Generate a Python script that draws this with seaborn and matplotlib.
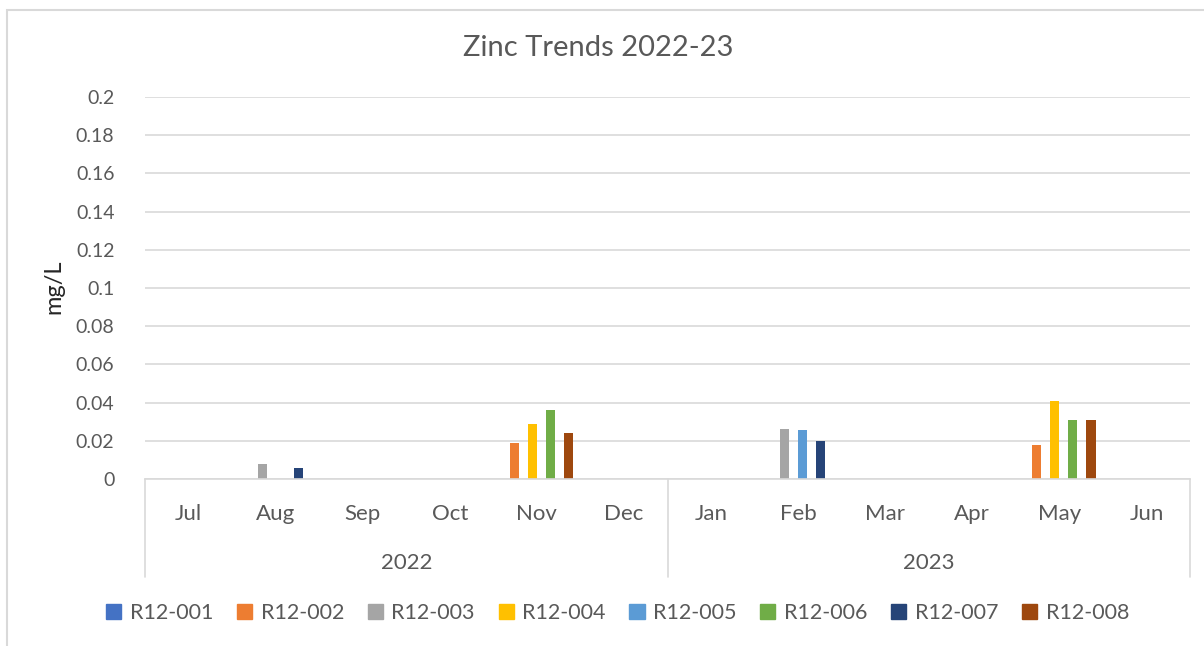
import numpy as np
import pandas as pd
import matplotlib
matplotlib.use('Agg')
import matplotlib.pyplot as plt
import matplotlib.patches as mpatches
from matplotlib.lines import Line2D
from matplotlib.transforms import blended_transform_factory
import seaborn as sns

# Data (mg/L), NaN = no reading
months = ['Jul', 'Aug', 'Sep', 'Oct', 'Nov', 'Dec', 'Jan', 'Feb', 'Mar', 'Apr', 'May', 'Jun']
years = ['2022', '2023']
sites = ['R12-001', 'R12-002', 'R12-003', 'R12-004', 'R12-005', 'R12-006', 'R12-007', 'R12-008']
nan = np.nan
r12_001 = [nan, nan, nan, nan, nan, nan, nan, nan, nan, nan, nan, nan]
r12_002 = [nan, nan, nan, nan, 0.019, nan, nan, nan, nan, nan, 0.018, nan]
r12_003 = [nan, 0.008, nan, nan, nan, nan, nan, 0.026, nan, nan, nan, nan]
r12_004 = [nan, nan, nan, nan, 0.029, nan, nan, nan, nan, nan, 0.041, nan]
r12_005 = [nan, nan, nan, nan, nan, nan, nan, 0.0255, nan, nan, nan, nan]
r12_006 = [nan, nan, nan, nan, 0.036, nan, nan, nan, nan, nan, 0.031, nan]
r12_007 = [nan, 0.006, nan, nan, nan, nan, nan, 0.020, nan, nan, nan, nan]
r12_008 = [nan, nan, nan, nan, 0.024, nan, nan, nan, nan, nan, 0.031, nan]
series = [r12_001, r12_002, r12_003, r12_004, r12_005, r12_006, r12_007, r12_008]

colors = ['#4472C4', '#ED7D31', '#A5A5A5', '#FFC000', '#5B9BD5', '#70AD47', '#264478', '#9E480E']

rows = []
for s, vals in zip(sites, series):
    for m, v in zip(months, vals):
        rows.append({'month': m, 'site': s, 'value': v})
df = pd.DataFrame(rows)

sns.set_style('white')
plt.rcParams['font.family'] = ['Lato', 'DejaVu Sans']
txt = '#595959'
grid = '#D9D9D9'

fig = plt.figure(figsize=(12.04, 6.46), dpi=100)
ax = fig.add_axes([145 / 1204, 1 - 479 / 646, (1190 - 145) / 1204, (479 - 97) / 646])

sns.barplot(data=df, x='month', y='value', hue='site', order=months, hue_order=sites,
            palette=colors, saturation=1, width=0.83, gap=0, linewidth=0,
            ax=ax, legend=False)

ax.set_xlim(-0.5, 11.5)
ax.set_ylim(0, 0.2)
ax.set_yticks(np.arange(0, 0.201, 0.02))
ax.set_yticklabels(['0'] + [('%.2f' % v).rstrip('0') for v in np.arange(0.02, 0.201, 0.02)])
ax.yaxis.grid(True, color=grid, linewidth=1.2)
ax.set_axisbelow(True)
for sp in ['left', 'right', 'top']:
    ax.spines[sp].set_visible(False)
ax.spines['bottom'].set_color(grid)
ax.spines['bottom'].set_linewidth(1.2)
ax.tick_params(axis='both', length=0, colors=txt)
ax.tick_params(axis='y', pad=22, labelsize=14)
ax.tick_params(axis='x', pad=18, labelsize=16)
ax.set_xlabel('')
ax.set_ylabel('')
fig.text(54 / 1204, 1 - 287 / 646, 'mg/L', rotation=90, ha='center', va='center',
         fontsize=17, color='#262626')

# year level of the category axis
tr = blended_transform_factory(ax.transData, ax.transAxes)
for x in [-0.5, 5.5, 11.5]:
    ax.add_line(Line2D([x, x], [0, -0.257], transform=tr, color=grid, linewidth=1.2, clip_on=False))
for i, y in enumerate(years):
    ax.text(2.5 + 6 * i, -0.219, y, transform=tr, ha='center', va='center', fontsize=16, color=txt)

fig.text(598 / 1204, 1 - 48 / 646, 'Zinc Trends 2022-23', ha='center', va='center',
         fontsize=21, color=txt)

handles = [mpatches.Patch(facecolor=c, edgecolor=c, label=s) for c, s in zip(colors, sites)]
fig.legend(handles=handles, loc='center', bbox_to_anchor=(0.513, 0.051), ncol=8, frameon=False,
           fontsize=15.5, labelcolor=txt, handlelength=0.7, handleheight=0.7,
           handletextpad=0.4, columnspacing=1.1)

# chart frame
fig.patches.append(mpatches.Rectangle((7 / 1204, -0.1), 1.2, 1 - 10 / 646 + 0.1, transform=fig.transFigure,
                                      fill=False, edgecolor=grid, linewidth=1.5))

fig.savefig('out.png', dpi=100)
